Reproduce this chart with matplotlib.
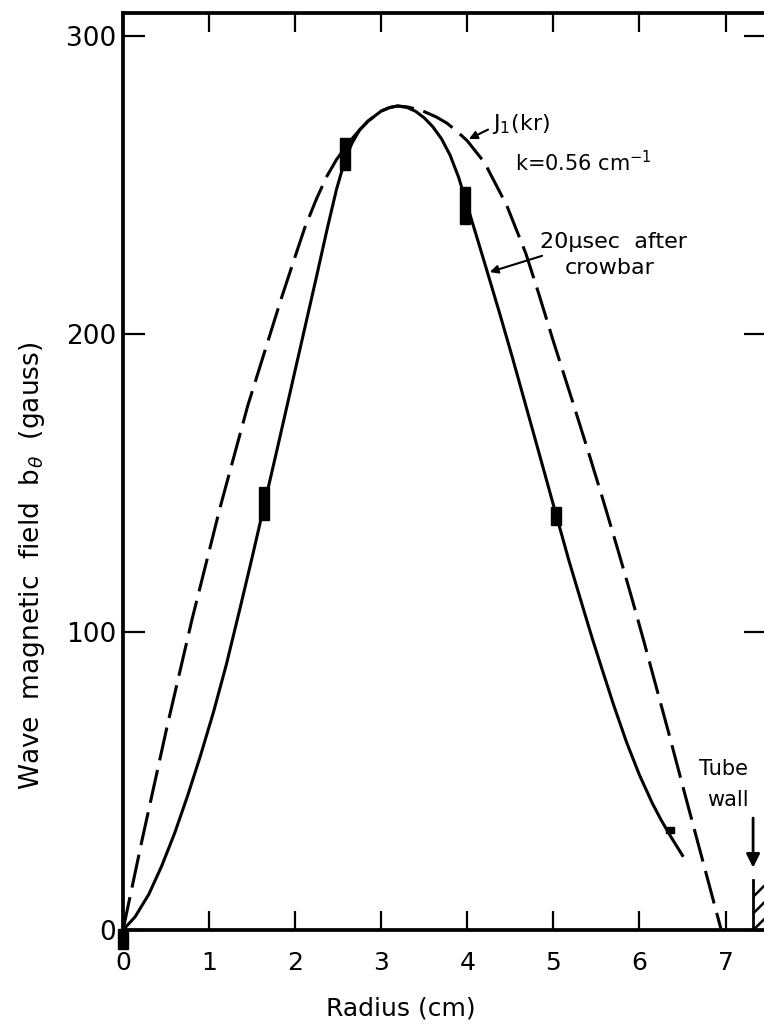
import matplotlib
matplotlib.use("Agg")
import matplotlib.pyplot as plt
from matplotlib.patches import Rectangle

plt.rcParams["hatch.linewidth"] = 1.8

# J1(kr) profile, k = 0.56 cm^-1 (dashed)
bessel_r = [0, 0.22, 0.51, 0.80, 1.13, 1.45, 1.84, 2.00, 2.11, 2.25, 2.37,
            2.48, 2.58, 2.66, 2.75, 2.85, 3.00, 3.10, 3.19, 3.30, 3.40, 3.50,
            3.64, 3.76, 3.88, 4.00, 4.20, 4.46, 4.68, 4.83, 5.00, 5.21, 5.40,
            5.57, 5.75, 5.91, 6.05, 6.20, 6.35, 6.51, 6.70, 6.85, 6.95]
bessel_b = [0, 30, 68, 104, 142, 176, 212, 226, 235.5, 245.5, 253,
            258.5, 262.5, 265.5, 268.5, 271.5, 274.8, 276, 276.5, 276.2, 275.5, 274.6,
            272.8, 270.8, 268, 264.8, 257.5, 243, 227, 213.5, 197.5, 178.5, 161,
            145, 127.5, 111.5, 97, 81, 65, 47.5, 27, 10.8, 0]

# measured field 20 usec after crowbar (solid fit)
fit_r = [0, 0.14, 0.30, 0.45, 0.60, 0.75, 0.90, 1.05, 1.20, 1.36, 1.50,
         1.64, 1.80, 1.95, 2.10, 2.25, 2.37, 2.48, 2.58, 2.66, 2.75, 2.85,
         3.00, 3.10, 3.19, 3.30, 3.40, 3.50, 3.60, 3.70, 3.80, 3.90, 4.00,
         4.10, 4.22, 4.38, 4.52, 4.66, 4.80, 4.92, 5.03, 5.18, 5.33, 5.45,
         5.56, 5.70, 5.85, 6.00, 6.15, 6.25, 6.35, 6.50]
fit_b = [0, 4.4, 12, 21.5, 32.5, 45, 58.5, 73, 89, 108, 125,
         142.5, 162.5, 181.5, 200.5, 219.5, 235, 248.5, 258.5, 264, 268.5, 271.5,
         274.8, 276, 276.5, 276, 274.7, 272.5, 269.5, 265.5, 260, 252.5, 243,
         233.5, 222, 206.5, 192.5, 178, 163.5, 151, 139.5, 124, 109.5, 98,
         88, 75.5, 63, 52, 42.5, 37, 32, 25]

# data points with spread
point_r = [0, 1.64, 2.58, 3.97, 5.03, 6.35]
point_b = [-3, 143, 260.4, 243, 139, 33.5]
point_err = [3.5, 5.5, 5.4, 6.2, 3.0, 0.9]

x_ticks = [0, 1, 2, 3, 4, 5, 6, 7]
y_ticks = [0, 100, 200, 300]
wall_r = 7.32

fig = plt.figure(figsize=(7.64, 10.25), dpi=100)
ax = fig.add_axes([123 / 764, 1 - 930 / 1025, 643 / 764, 917 / 1025])

ax.plot(bessel_r, bessel_b, color="k", lw=2.2, dashes=(11, 3.2),
        solid_joinstyle="round")
ax.plot(fit_r, fit_b, color="k", lw=2.2, solid_joinstyle="round")

for r, b, e in zip(point_r, point_b, point_err):
    w = 0.095 if e < 1 else 0.115
    ax.add_patch(Rectangle((r - w / 2, b - e), w, 2 * e, color="k",
                           clip_on=False, zorder=3))

# tube wall
ax.add_patch(Rectangle((wall_r, 0), 0.3, 16.8, fill=False, hatch="//",
                       edgecolor="k", lw=0))
ax.plot([wall_r, wall_r], [0, 16.8], color="k", lw=2)
ax.annotate("", xy=(wall_r, 20), xytext=(wall_r, 38.5),
            arrowprops=dict(arrowstyle="-|>", color="k", lw=2,
                            mutation_scale=20))
ax.text(6.98, 54, "Tube", fontsize=15, ha="center", va="center")
ax.text(7.03, 43.6, "wall", fontsize=15, ha="center", va="center")

# curve labels
ax.annotate("", xy=(3.99, 265), xytext=(4.27, 269),
            arrowprops=dict(arrowstyle="-|>", color="k", lw=1.5,
                            mutation_scale=12))
ax.text(4.29, 270.5, r"J$_1$(kr)", fontsize=16, ha="left", va="center")
ax.text(4.55, 257.4, r"k=0.56 cm$^{-1}$", fontsize=15, ha="left",
        va="center")
ax.annotate("", xy=(4.23, 220.5), xytext=(4.90, 226.5),
            arrowprops=dict(arrowstyle="-|>", color="k", lw=1.5,
                            mutation_scale=12))
ax.text(4.84, 231, "20\u03bcsec  after", fontsize=16, ha="left", va="center")
ax.text(5.13, 222.3, "crowbar", fontsize=16, ha="left", va="center")

ax.set_xlim(0, 7.47)
ax.set_ylim(0, 307.7)
ax.set_xticks(x_ticks)
ax.set_yticks(y_ticks)
for side in ax.spines.values():
    side.set_linewidth(2.7)

ax.tick_params(axis="x", direction="in", length=14, width=1.6, pad=15,
               labelsize=18, top=True)
ax.tick_params(axis="y", direction="in", length=16, width=1.6, pad=5,
               labelsize=19, right=True)

ax.set_xlabel("Radius (cm)", fontsize=18)
ax.xaxis.set_label_coords(0.432, -0.072)
ax.set_ylabel(r"Wave  magnetic  field  b$_\theta$  (gauss)", fontsize=19)
ax.yaxis.set_label_coords(-0.118, 0.397)

fig.savefig("out.png", dpi=100)
